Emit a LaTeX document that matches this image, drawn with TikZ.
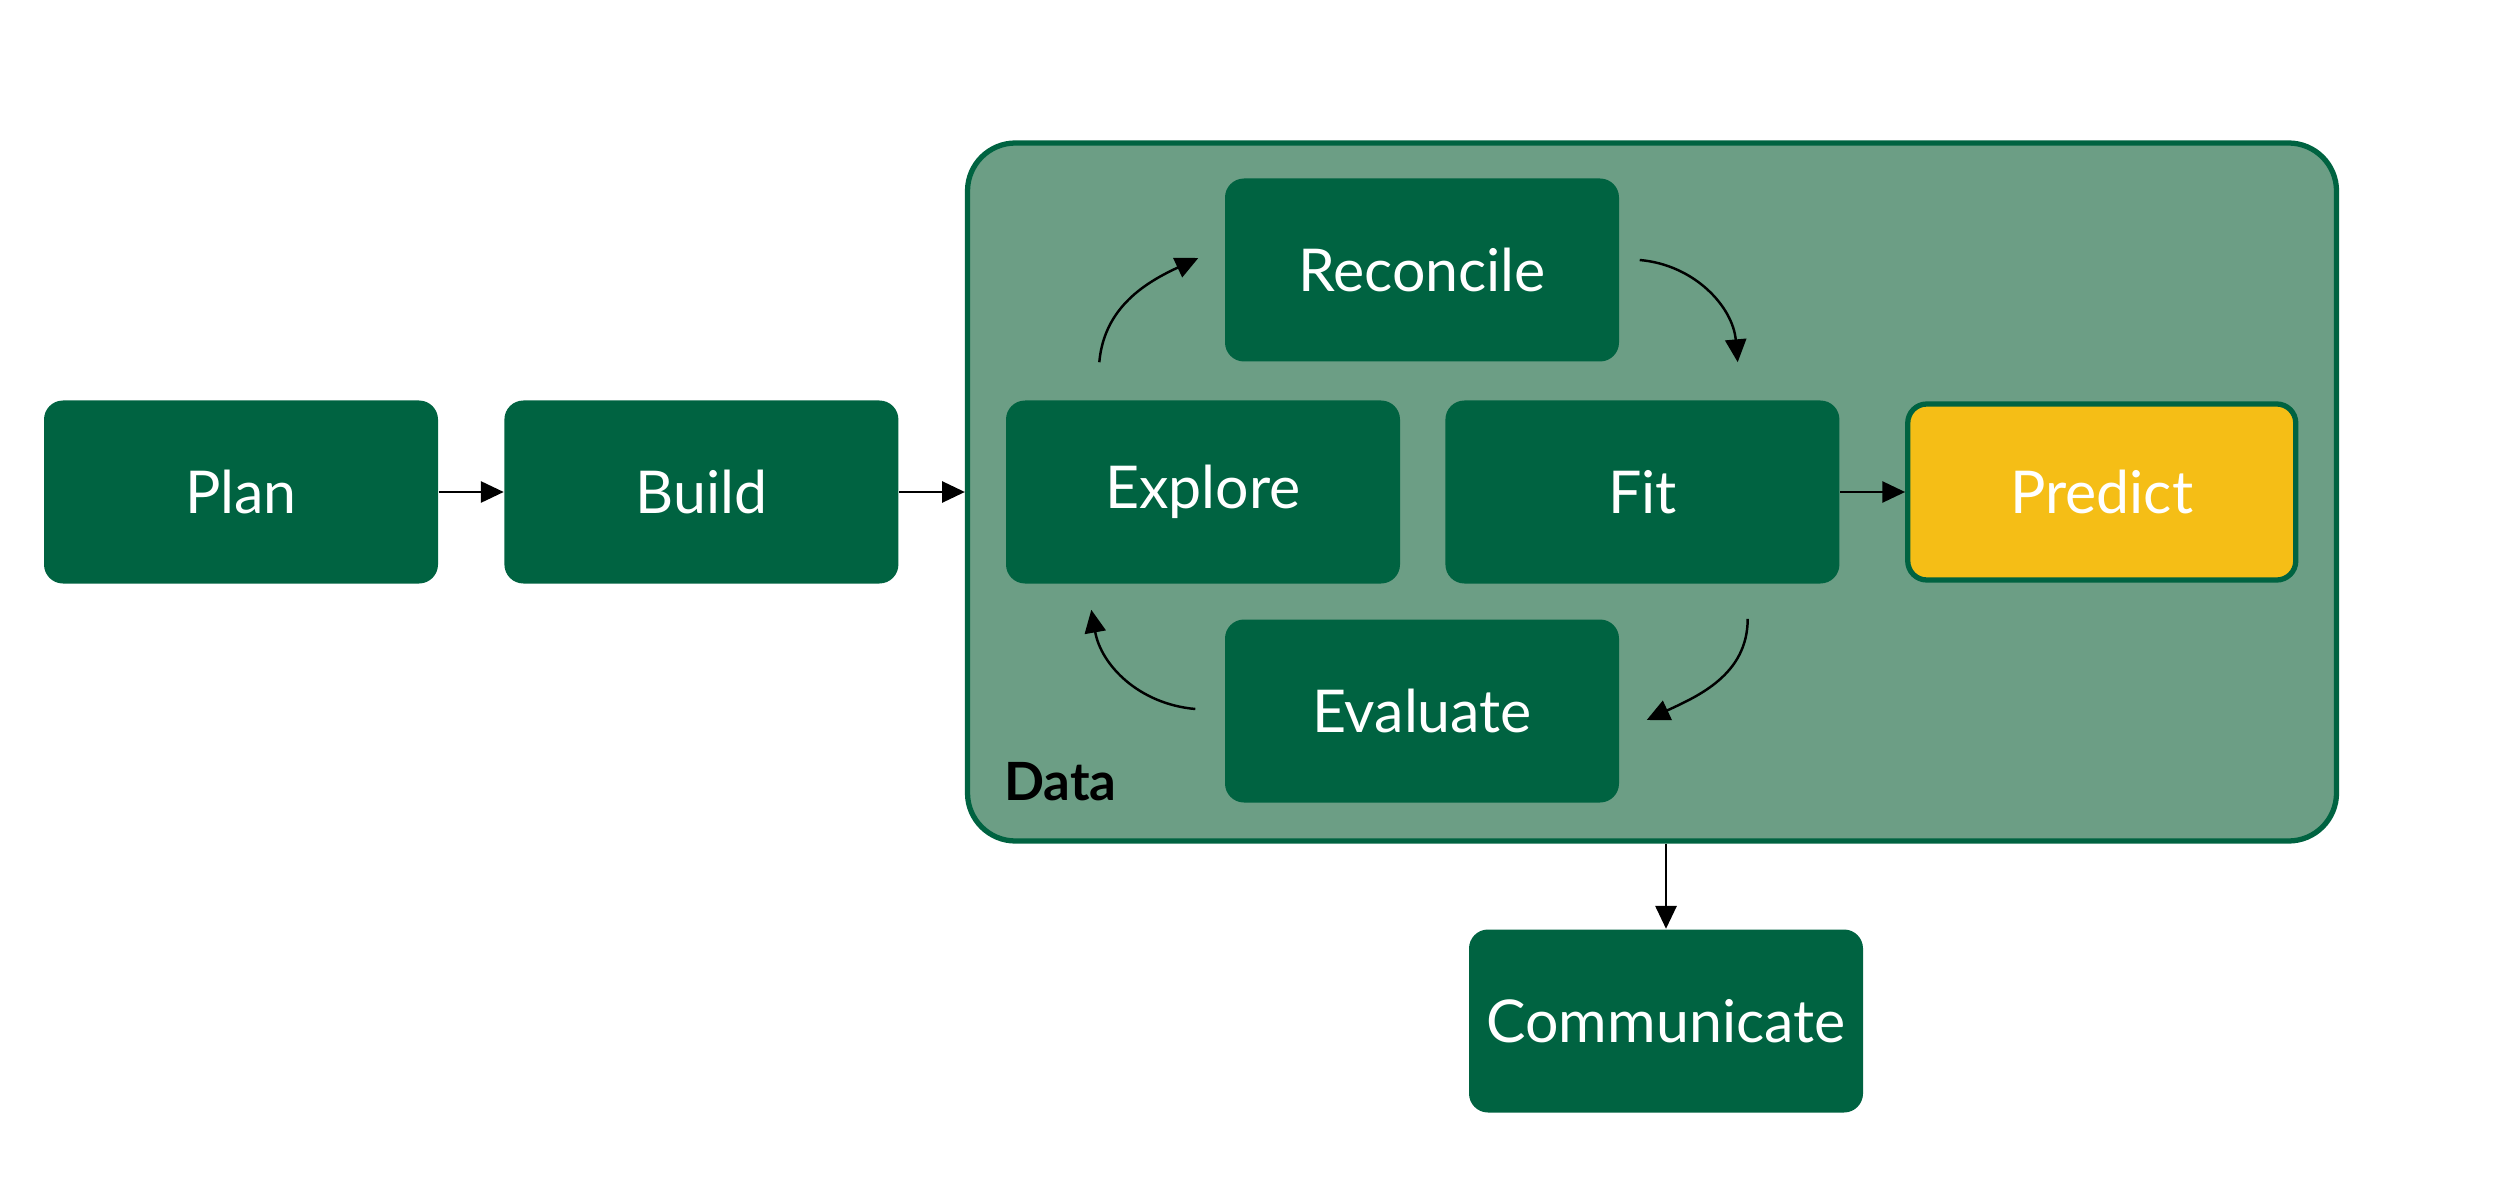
\documentclass[tikz,border=0pt]{standalone}
\usepackage{fontspec}
\setmainfont{Lato}
\usetikzlibrary{positioning,arrows.meta,calc}
\definecolor{darkgreen}{RGB}{0,99,65}
\definecolor{sagegreen}{RGB}{108,158,133}
\definecolor{gold}{RGB}{245,190,22}
\tikzset{
  stage/.style={fill=darkgreen,rounded corners=0.19cm,minimum width=3.94cm,minimum height=1.83cm,text=white,font=\fontsize{16.8}{20}\selectfont},
  link/.style={-{Triangle[length=6.5pt,width=6pt]},line width=0.7pt},
}
\begin{document}
\begin{tikzpicture}
\useasboundingbox (0,0) rectangle (25,12);
% the data box
\node[draw=darkgreen,fill=sagegreen,line width=1.5pt,rounded corners=0.48cm,minimum width=13.69cm,minimum height=6.98cm] (data) at (16.52,7.08) {};
\node[anchor=base west,font=\bfseries\fontsize{15}{18}\selectfont] (datalabel) at ($(data.south west)+(0.27,0.43)$) {Data};
% stages
\node[stage] (plan) at (2.41,7.08) {Plan};
\node[stage,right=0.65cm of plan] (build) {Build};
\node[stage] (explore) at (12.03,7.08) {Explore};
\node[stage,right=0.44cm of explore] (fit) {Fit};
\node[stage,right=0.65cm of fit,fill=gold,draw=darkgreen,line width=1.5pt,minimum width=3.88cm,minimum height=1.76cm] (predict) {Predict};
\node[stage] (reconcile) at (14.22,9.30) {Reconcile};
\node[stage] (evaluate) at (14.22,4.89) {Evaluate};
\node[stage] (comm) at (16.66,1.79) {Communicate};
% straight links
\draw[link] (plan) -- (build);
\draw[link] (build) -- (build -| data.west);
\draw[link] (fit) -- (predict);
\draw[link] (data.south -| comm.north) -- (comm.north);
% the cycle
\draw[link] ($(reconcile.south west)+(-1.25,0)$) to[out=85,in=205] ($(reconcile.west)+(-0.26,0.12)$);
\draw[link] ($(reconcile.east)+(0.20,0.10)$) to[out=-5,in=95] ($(reconcile.south east)+(1.18,0)$);
\draw[link] ($(evaluate.north east)+(1.28,0)$) to[out=-90,in=25] ($(evaluate.east)+(0.27,-0.09)$);
\draw[link] ($(evaluate.west)+(-0.29,0.02)$) to[out=175,in=-80] ($(evaluate.north west)+(-1.33,0.09)$);
\end{tikzpicture}
\end{document}
